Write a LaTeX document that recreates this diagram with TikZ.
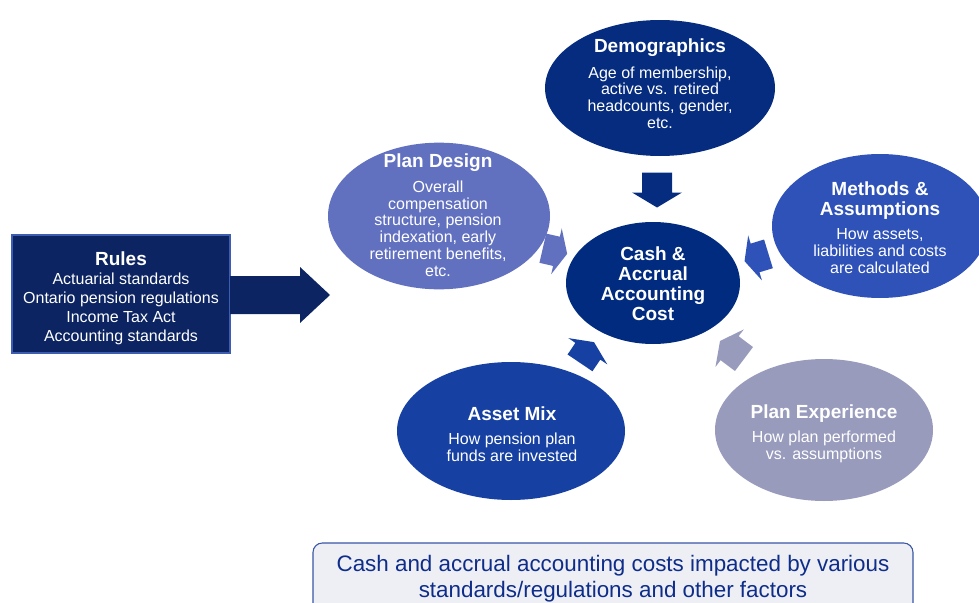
\documentclass[tikz,border=0pt]{standalone}
\usepackage{fontspec}
\setmainfont{Liberation Sans}
\usetikzlibrary{shapes.geometric}
\definecolor{navybox}{HTML}{0C2461}
\definecolor{navyedge}{HTML}{3E5DB0}
\definecolor{demoC}{HTML}{062C80}
\definecolor{centerC}{HTML}{002B7F}
\definecolor{designC}{HTML}{6171BF}
\definecolor{methodC}{HTML}{2F52B9}
\definecolor{assetC}{HTML}{1641A2}
\definecolor{expC}{HTML}{989BBC}
\definecolor{capText}{HTML}{0E2D8A}
\definecolor{capEdge}{HTML}{3A56A5}
\definecolor{capFill}{HTML}{EEEFF4}
\newcommand\blockarrow[9]{% name, x, y, angle, length, shaft, head width, head length, colour
  \begin{scope}[shift={(#2,#3)},rotate=#4]
    \fill[#9] (-#5/2,-#6/2) -- ({#5/2-#8},-#6/2) -- ({#5/2-#8},-#7/2) -- (#5/2,0)
      -- ({#5/2-#8},#7/2) -- ({#5/2-#8},#6/2) -- (-#5/2,#6/2) -- cycle;
    \coordinate (#1) at (0,0);
  \end{scope}}
\tikzset{
  oval/.style={ellipse,inner sep=0pt,draw=none},
  ttl/.style={text=white,font=\fontsize{14.25}{15}\selectfont\bfseries,align=center,inner sep=0pt},
  bdy/.style={text=white,font=\fontsize{12}{12.6}\selectfont,align=center,inner sep=0pt},
  ctr/.style={text=white,font=\fontsize{14.25}{15}\selectfont\bfseries,align=center,inner sep=0pt},
}
\begin{document}
\begin{tikzpicture}[x=0.75pt,y=-0.75pt]
\useasboundingbox (0,0) rectangle (979,603);
\clip (0,0) rectangle (979,603);
% Rules box and big arrow
\node[draw=navyedge,line width=0.8pt,fill=navybox,minimum width=163.5pt,minimum height=88.5pt,inner sep=0pt] (rules) at (121,294) {};
\node[ttl] (rulest) at (121,259) {Rules};
\node[bdy,font=\fontsize{12}{14.25}\selectfont] (rulesb) at (121,309) {Actuarial standards\\Ontario pension regulations\\Income Tax Act\\Accounting standards};
\blockarrow{bigarrow}{280}{295}{0}{100}{38}{56}{30}{navybox}
% Ellipses
\node[oval,fill=demoC,minimum width=172.5pt,minimum height=102pt] (demo) at (660,88) {};
\node[ttl] (demot) at (660,47.5) {Demographics};
\node[bdy] (demob) at (660,97.5) {Age of membership,\\active vs. retired\\headcounts, gender,\\etc.};
\node[oval,fill=designC,minimum width=166.5pt,minimum height=110pt] (design) at (439,216) {};
\node[ttl] (designt) at (438,162.5) {Plan Design};
\node[bdy] (designb) at (438,228.5) {Overall\\compensation\\structure, pension\\indexation, early\\retirement benefits,\\etc.};
\node[oval,fill=centerC,minimum width=130.5pt,minimum height=91.5pt] (center) at (653,283) {};
\node[ctr] (centert) at (653,284) {Cash \&\\Accrual\\Accounting\\Cost};
\node[oval,fill=methodC,minimum width=162pt,minimum height=108pt] (method) at (880,226) {};
\node[ttl] (methodt) at (880,200.5) {Methods \&\\Assumptions};
\node[bdy] (methodb) at (880,251) {How assets,\\liabilities and costs\\are calculated};
\node[oval,fill=assetC,minimum width=171pt,minimum height=103.5pt] (asset) at (511,431) {};
\node[ttl] (assett) at (512,413.5) {Asset Mix};
\node[bdy] (assetb) at (512,447) {How pension plan\\funds are invested};
\node[oval,fill=expC,minimum width=163.5pt,minimum height=106.5pt] (exp) at (824,430) {};
\node[ttl] (expt) at (824,414) {Plan Experience};
\node[bdy] (expb) at (824,447) {How plan performed\\vs. assumptions};
% Small block arrows toward the centre
\blockarrow{a1}{657}{190}{-90}{35}{30}{50}{15}{demoC}
\blockarrow{a2}{555}{251}{-13}{25}{30}{47}{11}{designC}
\blockarrow{a3}{756.5}{257.5}{197}{25}{30}{47}{11}{methodC}
\blockarrow{a4}{587}{352.5}{56}{25}{30}{47}{11}{assetC}
\blockarrow{a5}{732}{350}{143}{30}{30}{47}{12}{expC}
% Caption
\node[draw=capEdge,fill=capFill,line width=0.8pt,rounded corners=7pt,minimum width=450pt,minimum height=54pt,inner sep=0pt] (capbox) at (613,579) {};
\node[text=capText,font=\fontsize{16.8}{19.5}\selectfont,align=center,inner sep=0pt] (cap) at (613,579) {Cash and accrual accounting costs impacted by various\\standards/regulations and other factors};
\end{tikzpicture}
\end{document}
